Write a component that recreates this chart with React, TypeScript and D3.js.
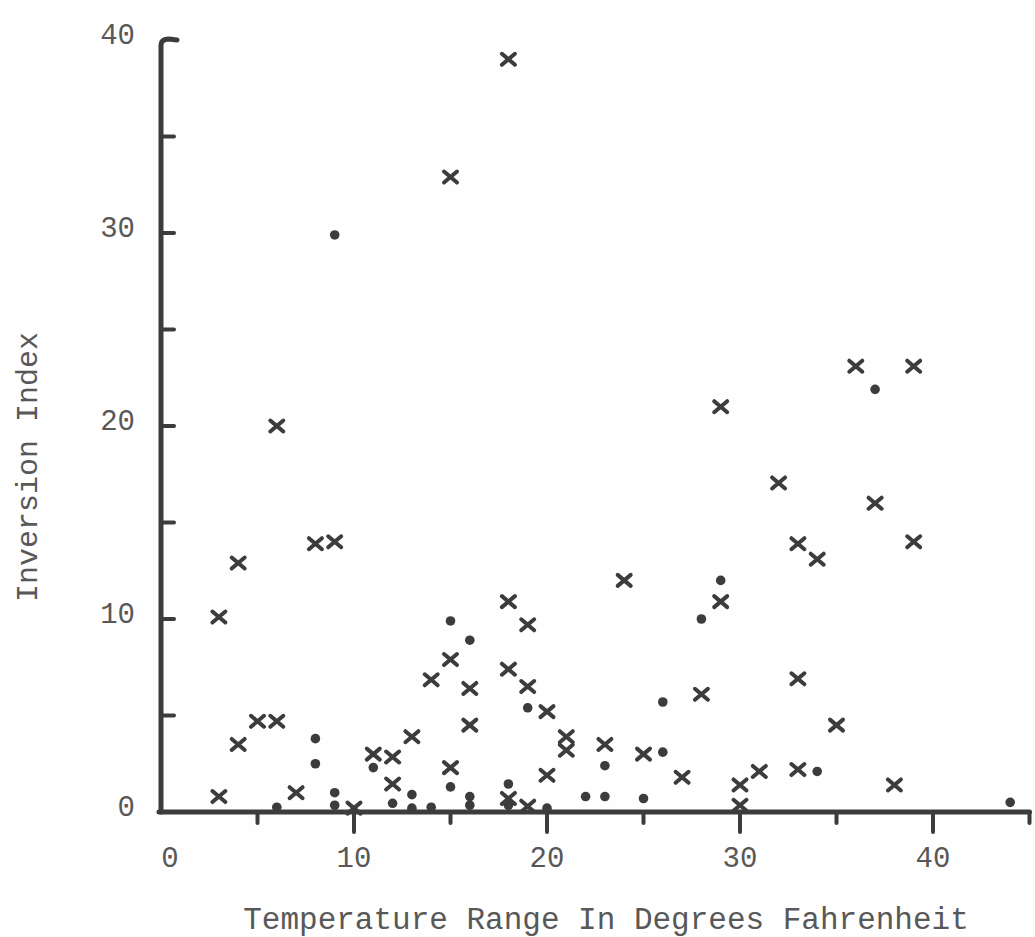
import React from "react";
import * as d3 from "d3";

// Temperature range (°F) and inversion index
const crossX = [3, 3, 4, 4, 5, 6, 6, 7, 8, 9, 10, 11, 12, 12, 13, 14, 15, 15, 15, 16, 16, 18, 18, 18, 18, 19, 19, 19, 20, 20, 21, 21, 23, 24, 25, 27, 28, 29, 29, 30, 30, 31, 32, 33, 33, 33, 34, 35, 36, 37, 38, 39, 39];
const crossY = [0.8, 10.1, 12.9, 3.5, 4.7, 4.7, 20, 1.0, 13.9, 14, 0.2, 3.0, 2.85, 1.45, 3.9, 6.85, 32.9, 7.9, 2.3, 6.4, 4.5, 39, 10.9, 7.4, 0.7, 9.7, 6.5, 0.3, 5.2, 1.9, 3.9, 3.2, 3.5, 12, 3.0, 1.8, 6.1, 10.9, 21, 0.35, 1.4, 2.1, 17.05, 13.9, 6.9, 2.2, 13.1, 4.5, 23.1, 16, 1.4, 23.1, 14];

const dotX = [9, 8, 8, 9, 9, 6, 11, 12, 13, 13, 14, 15, 15, 16, 16, 16, 18, 18, 19, 20, 22, 23, 23, 25, 26, 26, 28, 29, 37, 34, 44];
const dotY = [29.9, 3.8, 2.5, 1.0, 0.35, 0.25, 2.3, 0.45, 0.9, 0.2, 0.25, 9.9, 1.3, 8.9, 0.8, 0.35, 1.45, 0.35, 5.4, 0.2, 0.8, 0.8, 2.4, 0.7, 5.7, 3.1, 10, 12, 21.9, 2.1, 0.5];

const xTickLabels = [0, 10, 20, 30, 40];
const yTickLabels = [0, 10, 20, 30, 40];
const xMinorTicks = [5, 15, 25, 35, 45];
const xMajorTicks = [10, 20, 30, 40];
const yTicks = [5, 10, 15, 20, 25, 30, 35];

const xTitle = "Temperature Range In Degrees Fahrenheit";
const yTitle = "Inversion Index";

const W = 1035;
const H = 937;
const INK = "#3c3c3c";
const TEXT = "#585858";
const FONT = "'Liberation Mono', 'DejaVu Sans Mono', monospace";

export default function App() {
  const x = d3.scaleLinear().domain([0, 45]).range([161, 1029.5]);
  const y = d3.scaleLinear().domain([0, 40]).range([812, 40]);

  const crosses = crossX.map((v, i) => ({ x: v, y: crossY[i] }));
  const dots = dotX.map((v, i) => ({ x: v, y: dotY[i] }));

  const x0 = x(0);
  const y0 = y(0);
  const yTop = y(40);

  const crossPath = "M-6.5,-5.5L6.5,5.5M-6.5,5.5L6.5,-5.5";

  return (
    <svg
      width={W}
      height={H}
      viewBox={`0 0 ${W} ${H}`}
      style={{ position: "absolute", left: 0, top: 0, background: "#fefefe" }}
    >
      <rect x={0} y={0} width={W} height={H} fill="#fefefe" />

      {/* y axis with hooked top */}
      <path
        d={`M${x0},${y0}L${x0},${yTop + 5}Q${x0},${yTop - 1} ${x0 + 8},${yTop - 1}L${x0 + 16},${yTop}`}
        fill="none"
        stroke={INK}
        strokeWidth={5}
        strokeLinecap="round"
      />
      {yTicks.map((t) => (
        <line key={"yt" + t} x1={x0} x2={x0 + 13} y1={y(t)} y2={y(t)} stroke={INK} strokeWidth={4} strokeLinecap="round" />
      ))}

      {/* x axis */}
      <line x1={x0 - 2} x2={x(45)} y1={y0} y2={y0} stroke={INK} strokeWidth={5} strokeLinecap="round" />
      {xMinorTicks.map((t) => (
        <line key={"xm" + t} x1={x(t)} x2={x(t)} y1={y0} y2={y0 + 11} stroke={INK} strokeWidth={4} strokeLinecap="round" />
      ))}
      {xMajorTicks.map((t) => (
        <line key={"xM" + t} x1={x(t)} x2={x(t)} y1={y0} y2={y0 + 20} stroke={INK} strokeWidth={4} strokeLinecap="round" />
      ))}

      {/* tick labels */}
      {xTickLabels.map((t) => (
        <text
          key={"xl" + t}
          x={x(t) + (t === 0 ? 9 : 0)}
          y={867}
          textAnchor="middle"
          fontFamily={FONT}
          fontSize={29}
          fill={TEXT}
        >
          {t}
        </text>
      ))}
      {yTickLabels.map((t) => (
        <text
          key={"yl" + t}
          x={135}
          y={y(t) - 4}
          textAnchor="end"
          dominantBaseline="central"
          fontFamily={FONT}
          fontSize={29}
          fill={TEXT}
        >
          {t}
        </text>
      ))}

      {/* axis titles */}
      <text
        x={606}
        y={929}
        textAnchor="middle"
        fontFamily={FONT}
        fontSize={31}
        fill={TEXT}
      >
        {xTitle}
      </text>
      <text
        transform={`translate(37,467) rotate(-90)`}
        textAnchor="middle"
        fontFamily={FONT}
        fontSize={30}
        fill={TEXT}
      >
        {yTitle}
      </text>

      {/* dots */}
      {dots.map((d, i) => (
        <circle key={"d" + i} cx={x(d.x)} cy={y(d.y)} r={4.8} fill={INK} />
      ))}

      {/* crosses */}
      {crosses.map((d, i) => (
        <path
          key={"c" + i}
          d={crossPath}
          transform={`translate(${x(d.x)},${y(d.y)})`}
          fill="none"
          stroke={INK}
          strokeWidth={4}
          strokeLinecap="round"
        />
      ))}
    </svg>
  );
}
